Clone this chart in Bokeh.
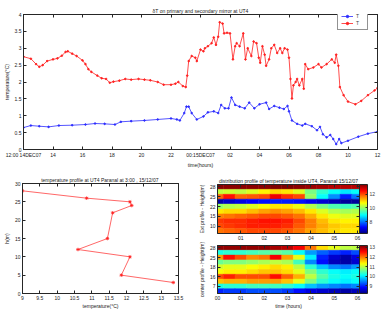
import numpy as np
from bokeh.plotting import figure
from bokeh.layouts import column, row
from bokeh.models import (Range1d, FixedTicker, LinearAxis, Legend, LegendItem,
                          Label, ColorBar, LinearColorMapper, ColumnDataSource)
from bokeh.embed import file_html
from bokeh.resources import INLINE

FONT = "Liberation Sans"
AXC = "#262626"

# ---------------- mirror temperature differences (hours after 12:00, 14 Dec 2007)
red_hours = [0, 0.5, 0.85, 1.07, 1.3, 1.6, 2.0, 2.3, 2.6, 2.85, 3.0, 3.3, 3.6, 4.0, 4.2,
             4.4, 4.6, 5.0, 5.3, 5.6, 5.85, 6.1, 6.5, 6.9, 7.3, 7.8, 8.2, 8.6, 9.1, 9.5,
             10.0, 10.3, 10.5, 10.8, 11.0, 11.1, 11.2, 11.4, 11.65, 11.75, 12.0, 12.2,
             12.3, 12.5, 12.75, 12.9, 13.05, 13.2, 13.3, 13.5, 13.6, 13.8, 14.0, 14.2,
             14.35, 14.45, 14.65, 14.9, 15.05, 15.2, 15.45, 15.6, 15.8, 15.95, 16.05,
             16.2, 16.35, 16.45, 16.65, 16.8, 17.0, 17.2, 17.4, 17.55, 17.7, 17.9, 18.0,
             18.1, 18.2, 18.3, 18.45, 18.55, 18.7, 18.9, 19.0, 19.1, 19.3, 19.65, 20.0,
             20.2, 20.55, 20.9, 21.1, 21.2, 21.35, 21.45, 21.7, 22.0, 22.5, 22.9, 23.35,
             23.8, 24.0]
red_temp = [2.75, 2.69, 2.53, 2.45, 2.50, 2.62, 2.67, 2.70, 2.78, 2.89, 2.91, 2.84, 2.77,
            2.64, 2.53, 2.38, 2.30, 2.19, 2.11, 2.09, 1.98, 2.01, 2.04, 2.09, 2.07, 2.09,
            2.07, 2.05, 2.00, 1.92, 1.92, 1.95, 2.00, 1.88, 1.85, 2.19, 2.62, 2.77, 2.72,
            2.62, 2.96, 2.91, 3.00, 3.06, 3.15, 3.32, 3.10, 3.34, 3.77, 3.73, 3.44, 3.46,
            3.44, 2.67, 3.06, 3.15, 3.06, 3.44, 2.67, 3.00, 2.77, 3.20, 3.15, 2.72, 2.57,
            3.06, 2.81, 2.48, 2.67, 3.00, 3.10, 2.86, 3.00, 2.86, 3.00, 2.96, 2.72, 2.09,
            1.51, 1.90, 2.00, 2.09, 1.90, 2.09, 1.80, 2.53, 2.38, 2.43, 2.53, 2.43, 2.53,
            2.67, 2.57, 2.81, 2.48, 1.85, 1.61, 1.42, 1.34, 1.44, 1.61, 1.75, 1.82]

blue_hours = [0, 0.5, 1.07, 1.7, 2.4, 3.3, 4.2, 4.85, 5.5, 6.2, 6.6, 7.3, 8.2, 9.1, 10.0,
              10.4, 10.6, 10.9, 11.05, 11.2, 11.4, 11.75, 12.2, 12.5, 12.9, 13.2, 13.4,
              13.65, 13.9, 14.1, 14.35, 14.65, 15.0, 15.3, 15.65, 16.0, 16.45, 16.65, 17.0,
              17.35, 17.65, 17.9, 18.0, 18.2, 18.55, 18.9, 19.1, 19.55, 19.9, 20.1, 20.3,
              20.55, 20.8, 21.0, 21.2, 21.4, 21.55, 22.0, 22.7, 23.35, 24.0]
blue_temp = [0.65, 0.71, 0.69, 0.67, 0.71, 0.72, 0.74, 0.77, 0.76, 0.74, 0.82, 0.84, 0.86,
             0.89, 0.92, 0.89, 0.86, 1.08, 1.27, 1.27, 1.08, 0.89, 0.98, 1.10, 1.13, 1.08,
             1.32, 1.22, 1.22, 1.54, 1.32, 1.27, 1.22, 1.39, 1.22, 1.34, 1.39, 1.20, 1.29,
             1.24, 1.20, 1.29, 1.13, 0.86, 0.76, 0.71, 0.76, 0.69, 0.57, 0.67, 0.45, 0.36,
             0.43, 0.31, 0.16, 0.31, 0.19, 0.26, 0.38, 0.47, 0.53]

time_ticks = list(range(0, 25, 2))
time_labels = ["12:00 14DEC07", "14", "16", "18", "20", "22", "00:15DEC07",
               "02", "04", "06", "08", "10", "12"]
dt_ticks = [0, 0.5, 1, 1.5, 2, 2.5, 3, 3.5, 4]

# ---------------- vertical profile at 3:00
profile_temp = [9.0, 10.85, 12.1, 12.15, 11.6, 11.45, 10.6, 12.1, 11.85, 13.35]
profile_height = [28, 26, 25, 24, 22, 15, 12, 10, 5, 3]
prof_x_ticks = [9, 9.5, 10, 10.5, 11, 11.5, 12, 12.5, 13, 13.5]
prof_y_ticks = [0, 5, 10, 15, 20, 25, 30]

# ---------------- temperature maps, rows top to bottom, half-hour columns
map_hours = [0, 0.5, 1, 1.5, 2, 2.5, 3, 3.5, 4, 4.5, 5, 5.5, 6]
ext_rows = [
    [13.3, 13.3, 13.3, 13.3, 13.3, 13.4, 13.4, 13.3, 13.2, 13.1, 13.0, 13.0, 13.0],
    [10.3, 10.4, 10.3, 10.5, 10.8, 11.0, 10.9, 10.5, 9.8, 9.3, 9.0, 8.8, 9.0],
    [11.8, 12.4, 11.8, 11.9, 12.0, 12.6, 12.2, 12.0, 10.0, 9.0, 8.2, 7.4, 8.0],
    [6.6, 6.8, 7.0, 7.2, 7.3, 7.4, 7.4, 7.3, 7.1, 6.9, 6.7, 6.5, 6.5],
    [10.0, 10.2, 10.3, 10.5, 10.7, 10.9, 10.9, 10.6, 10.2, 9.8, 9.5, 9.4, 9.5],
    [10.9, 11.0, 11.0, 11.2, 11.4, 11.5, 11.4, 11.2, 10.9, 10.5, 10.2, 10.1, 10.2],
    [11.6, 11.7, 11.8, 11.9, 12.0, 12.0, 11.9, 11.7, 11.3, 10.9, 10.6, 10.5, 10.5],
    [12.1, 12.2, 12.2, 12.3, 12.4, 12.4, 12.3, 12.0, 11.6, 11.2, 10.9, 10.8, 10.8],
    [12.0, 12.1, 12.2, 12.3, 12.3, 12.3, 12.2, 11.9, 11.6, 11.3, 11.1, 11.0, 11.0],
    [11.7, 11.8, 11.9, 12.0, 12.0, 12.0, 11.9, 11.7, 11.4, 11.2, 11.0, 10.9, 10.9],
]
ext_tick_rows = [1, 3, 5, 7, 9]
ext_tick_labels = ["28", "25", "22", "15", "10"]
ext_color_ticks = [8, 10, 12]

center_rows = [
    [13.1, 13.1, 13.1, 13.1, 13.1, 13.0, 12.9, 12.6, 12.0, 11.5, 11.2, 11.0, 11.0],
    [10.2, 10.3, 10.3, 10.4, 10.5, 10.6, 10.5, 10.1, 9.6, 9.3, 9.1, 9.0, 9.2],
    [11.8, 12.5, 12.2, 11.9, 12.0, 12.6, 11.8, 11.2, 10.0, 9.0, 8.6, 8.4, 8.7],
    [10.6, 10.7, 10.7, 10.8, 10.9, 11.0, 10.9, 10.4, 9.5, 8.9, 8.5, 8.4, 8.6],
    [11.1, 11.2, 11.2, 11.3, 11.4, 11.5, 11.4, 11.0, 10.3, 9.8, 9.5, 9.4, 9.6],
    [11.3, 11.4, 11.4, 11.5, 11.6, 11.6, 11.5, 11.2, 10.7, 10.3, 10.1, 10.0, 10.1],
    [12.2, 12.4, 12.2, 12.2, 12.2, 12.5, 12.1, 11.7, 11.0, 10.5, 10.2, 10.1, 10.2],
    [11.6, 11.7, 11.7, 11.8, 11.8, 11.8, 11.6, 11.2, 10.7, 10.3, 10.1, 10.0, 10.1],
    [10.2, 10.3, 10.3, 10.4, 10.4, 10.4, 10.3, 10.1, 9.8, 9.6, 9.5, 9.4, 9.5],
    [9.0, 9.1, 9.1, 9.2, 9.2, 9.2, 9.1, 8.9, 8.7, 8.6, 8.5, 8.4, 8.5],
]
center_tick_rows = [1, 3, 5, 7, 9]
center_tick_labels = ["28", "25", "18", "16", "7"]
center_color_ticks = [9, 10, 11, 12, 13]


def jet(n=256):
    out = []
    for i in range(n):
        v = i / (n - 1)
        r = min(max(1.5 - abs(4 * v - 3), 0), 1)
        g = min(max(1.5 - abs(4 * v - 2), 0), 1)
        b = min(max(1.5 - abs(4 * v - 1), 0), 1)
        out.append("#%02x%02x%02x" % (int(r * 255), int(g * 255), int(b * 255)))
    return out


JET = jet()


def style_axis(ax, size="5px"):
    ax.major_tick_in = 3
    ax.major_tick_out = 0
    ax.minor_tick_in = 0
    ax.minor_tick_out = 0
    ax.axis_line_color = AXC
    ax.major_tick_line_color = AXC
    ax.major_label_text_font = FONT
    ax.major_label_text_font_size = size
    ax.major_label_text_color = "#222222"
    ax.major_label_standoff = 2
    ax.axis_label_text_font = FONT
    ax.axis_label_text_font_size = size
    ax.axis_label_text_font_style = "normal"
    ax.axis_label_text_color = "#222222"
    ax.axis_label_standoff = 2


def mirror_axes(p, xticks, yticks):
    # tick marks on the top and right edges of the box, without labels
    for side, ticks in (("above", xticks), ("right", yticks)):
        ax = LinearAxis(ticker=FixedTicker(ticks=ticks))
        style_axis(ax)
        ax.major_label_text_font_size = "1px"
        ax.major_label_text_color = None
        ax.major_label_standoff = 0
        p.add_layout(ax, side)


def style_title(p, size="5px"):
    p.title.text_font = FONT
    p.title.text_font_size = size
    p.title.text_font_style = "normal"
    p.title.text_color = "#222222"
    p.title.align = "center"
    p.title.standoff = 2


def fmt(ticks):
    return {t: f"{t:g}" for t in ticks}


# ================= top panel: time series
top = figure(width=382, height=170, output_backend="svg", toolbar_location=None,
             x_range=Range1d(0, 24), y_range=Range1d(0, 4),
             title="\u03b4T on primary and secondary mirror at UT4",
             min_border_left=17, min_border_right=5, min_border_top=14,
             min_border_bottom=18)
top.grid.visible = False
top.outline_line_color = AXC
style_title(top)
top.xaxis.ticker = FixedTicker(ticks=time_ticks)
top.xaxis.major_label_overrides = dict(zip(time_ticks, time_labels))
top.xaxis.axis_label = "time(hours)"
top.yaxis.ticker = FixedTicker(ticks=dt_ticks)
top.yaxis.major_label_overrides = fmt(dt_ticks)
top.yaxis.axis_label = "temperature(\u00b0C)"
style_axis(top.xaxis[0])
style_axis(top.yaxis[0])
top.xaxis[0].axis_label_standoff = 1
mirror_axes(top, time_ticks, dt_ticks)

bsrc = ColumnDataSource(dict(x=blue_hours, y=blue_temp))
rsrc = ColumnDataSource(dict(x=red_hours, y=red_temp))
bl = top.line("x", "y", source=bsrc, color="#2b2bff", line_width=0.8)
bd = top.scatter("x", "y", source=bsrc, color="#2b2bff", size=1.6)
rl = top.line("x", "y", source=rsrc, color="#ff2020", line_width=0.8)
rd = top.scatter("x", "y", source=rsrc, color="#ff2020", size=1.6)

leg = Legend(items=[LegendItem(label="T", renderers=[bl, bd]),
                    LegendItem(label="T", renderers=[rl, rd])],
             location=(314, 119), label_text_font=FONT, label_text_font_size="5px",
             glyph_width=12, glyph_height=6, label_height=6, label_width=8,
             label_standoff=3, spacing=1, padding=3, margin=0,
             border_line_color=AXC, border_line_width=1, background_fill_alpha=1)
top.add_layout(leg)
for sub, yy in (("M1", 126.5), ("M2", 119.5)):
    top.add_layout(Label(x=335.5, y=yy, x_units="screen", y_units="screen", text=sub,
                         text_font=FONT, text_font_size="3.5px", text_color="#222222"))

# ================= bottom left: vertical profile
prof = figure(width=195, height=141, output_backend="svg", toolbar_location=None,
              x_range=Range1d(9, 13.5), y_range=Range1d(0, 30),
              title="temperature profile at UT4  Paranal at 3:00 , 15/12/07",
              min_border_left=16, min_border_right=17, min_border_top=13,
              min_border_bottom=15)
prof.grid.visible = False
prof.outline_line_color = AXC
style_title(prof)
prof.xaxis.ticker = FixedTicker(ticks=prof_x_ticks)
prof.xaxis.major_label_overrides = fmt(prof_x_ticks)
prof.xaxis.axis_label = "temperature(\u00b0C)"
prof.yaxis.ticker = FixedTicker(ticks=prof_y_ticks)
prof.yaxis.axis_label = "h(m)"
style_axis(prof.xaxis[0])
style_axis(prof.yaxis[0])
prof.xaxis[0].axis_label_standoff = 0
mirror_axes(prof, prof_x_ticks, prof_y_ticks)
psrc = ColumnDataSource(dict(x=profile_temp, y=profile_height))
prof.line("x", "y", source=psrc, color="#ff4040", line_width=0.8)
prof.scatter("x", "y", source=psrc, marker="asterisk", color="#ff2020", size=3.5,
             line_width=0.8)


# ================= bottom right: temperature maps
def heat_map(rows, tick_rows, tick_labels, color_ticks, low, high, xticks, height,
             top_border, bottom_border, ylabel, title=None, xlabel=None):
    n = len(rows)
    xs, ys, vs = [], [], []
    for i, vals in enumerate(rows):
        for h, v in zip(map_hours, vals):
            xs.append(h)
            ys.append(i + 1)
            vs.append(v)
    mapper = LinearColorMapper(palette=JET, low=low, high=high)
    p = figure(width=187, height=height, output_backend="svg", toolbar_location=None,
               x_range=Range1d(0, 6.08), y_range=Range1d(n + 0.5, 0.5),
               title=title, min_border_left=22, min_border_right=23,
               min_border_top=top_border, min_border_bottom=bottom_border)
    p.grid.visible = False
    p.outline_line_color = AXC
    if title:
        style_title(p)
    src = ColumnDataSource(dict(x=xs, y=ys, v=vs))
    cmap = {"field": "v", "transform": mapper}
    p.rect("x", "y", width=0.5, height=1, source=src, fill_color=cmap, line_color=cmap,
           line_width=0.5)
    p.xaxis.ticker = FixedTicker(ticks=xticks)
    p.xaxis.major_label_overrides = {t: "%02d" % t for t in xticks}
    p.yaxis.ticker = FixedTicker(ticks=tick_rows)
    p.yaxis.major_label_overrides = dict(zip(tick_rows, tick_labels))
    p.yaxis.axis_label = ylabel
    if xlabel:
        p.xaxis.axis_label = xlabel
    style_axis(p.xaxis[0])
    style_axis(p.yaxis[0])
    p.xaxis[0].axis_label_standoff = 0
    mirror_axes(p, xticks, tick_rows)
    cb = ColorBar(color_mapper=mapper, ticker=FixedTicker(ticks=color_ticks),
                  width=8, margin=0, padding=0, label_standoff=2,
                  major_label_text_font=FONT, major_label_text_font_size="5px",
                  major_tick_in=2, major_tick_out=0, major_tick_line_color=AXC,
                  bar_line_color=AXC, border_line_color=None)
    p.add_layout(cb, "right")
    return p


hm_ext = heat_map(ext_rows, ext_tick_rows, ext_tick_labels, ext_color_ticks, 6.3, 13.4,
                  [1, 2, 3, 4, 5, 6], 72, 14, 8, "Ext profile - Height(m)",
                  title="distribution profile of temperature inside UT4, Paranal 15/12/07")
hm_cen = heat_map(center_rows, center_tick_rows, center_tick_labels, center_color_ticks,
                  8.2, 13.2, [0, 1, 2, 3, 4, 5, 6], 69, 3, 16,
                  "center profile - Height(m)", xlabel="time (hours)")

layout = column(top, row(prof, column(hm_ext, hm_cen)))
open("out.html", "w").write(file_html(layout, INLINE))
